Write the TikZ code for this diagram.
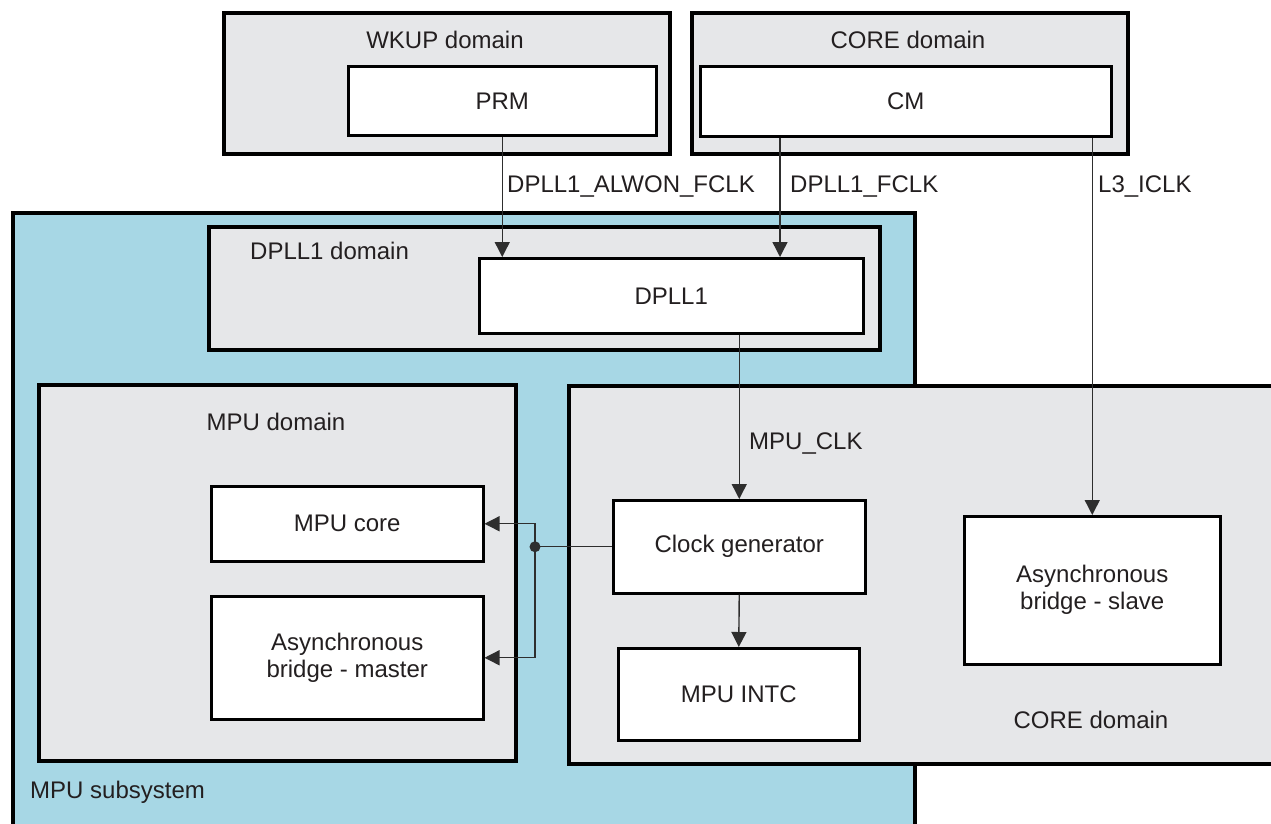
\documentclass[tikz,border=0pt]{standalone}
\usepackage{fontspec}
\setmainfont{Liberation Sans}
\usetikzlibrary{arrows.meta}
\definecolor{subblue}{HTML}{A7D7E5}
\definecolor{domgray}{HTML}{E6E7E9}
\definecolor{txtc}{HTML}{231F20}
\definecolor{wirec}{HTML}{2E2E2E}
\newcommand\figfont{\fontsize{24}{27}\selectfont}
\begin{document}
\begin{tikzpicture}[x=1pt,y=-1pt,
  dom/.style={draw=black,line width=3.5pt,fill=domgray,inner sep=0pt,anchor=north west},
  blk/.style={draw=black,line width=2.5pt,fill=white,inner sep=0pt,anchor=north west,align=center,text=txtc,font=\figfont},
  lbl/.style={text=txtc,font=\figfont,inner sep=0pt},
  wire/.style={draw=wirec,line width=1.4pt},
  arr/.style={wire,-{Triangle[length=15pt,width=15pt]}}]
\useasboundingbox (0,0) rectangle (1271,823);
\clip (0,0) rectangle (1271,823);
\fill[white] (0,0) rectangle (1271,823);

% outer domains
\node[dom,fill=subblue,minimum width=902pt,minimum height=640pt] (mpusub) at (11,211) {};
\node[dom,minimum width=446pt,minimum height=141pt] (wkup) at (222,11) {};
\node[dom,minimum width=436pt,minimum height=141pt] (coretop) at (690,11) {};
\node[dom,minimum width=671pt,minimum height=123pt] (dplldom) at (207,225) {};
\node[dom,minimum width=477pt,minimum height=376pt] (mpudom) at (37,383) {};
\node[dom,minimum width=740pt,minimum height=378pt] (coredom) at (567,384) {};

% blocks
\node[blk,minimum width=308pt,minimum height=69pt] (prm) at (347,65) {PRM};
\node[blk,minimum width=411pt,minimum height=70pt] (cm) at (699,65) {CM};
\node[blk,minimum width=384pt,minimum height=75pt] (dpll1) at (478,257) {DPLL1};
\node[blk,minimum width=272pt,minimum height=75pt] (mpucore) at (210,485) {MPU core};
\node[blk,minimum width=272pt,minimum height=123pt] (amaster) at (210,595) {Asynchronous\\bridge - master};
\node[blk,minimum width=252pt,minimum height=93pt] (clkgen) at (612,499) {Clock generator};
\node[blk,minimum width=241pt,minimum height=92pt] (intc) at (617,647) {MPU INTC};
\node[blk,minimum width=256pt,minimum height=148pt] (aslave) at (963,515) {Asynchronous\\bridge - slave};

% domain labels
\node[lbl] (wkuplbl) at (445,40) {WKUP domain};
\node[lbl] (coretoplbl) at (908,40) {CORE domain};
\node[lbl,anchor=west] (dplldomlbl) at (250,251) {DPLL1 domain};
\node[lbl] (mpudomlbl) at (276,422) {MPU domain};
\node[lbl] (coredomlbl) at (1091,720) {CORE domain};
\node[lbl,anchor=west] (mpusublbl) at (30,792) {MPU subsystem};

% connectors
\draw[arr] (prm.south) -- (prm.south |- dpll1.north);
\draw[arr] (780,0 |- cm.south) -- (780,0 |- dpll1.north);
\draw[arr] (cm.south -| aslave.north) -- (aslave.north);
\draw[arr] (dpll1.south -| clkgen.north) -- (clkgen.north);
\draw[arr] (clkgen.south) -- (intc.north);
\coordinate (junc) at (535,0 |- clkgen.west);
\draw[wire] (clkgen.west) -- (junc);
\draw[arr] (junc) |- (mpucore.east);
\draw[arr] (junc) |- (amaster.east);
\fill[wirec] (junc) circle (5.5pt);

% signal labels
\node[lbl,anchor=west] (l1) at (507,186) {DPLL1\_ALWON\_FCLK};
\node[lbl,anchor=west] (l2) at (790,186) {DPLL1\_FCLK};
\node[lbl,anchor=west] (l3) at (1098,186) {L3\_ICLK};
\node[lbl,anchor=west] (l4) at (749,443) {MPU\_CLK};
\end{tikzpicture}
\end{document}
